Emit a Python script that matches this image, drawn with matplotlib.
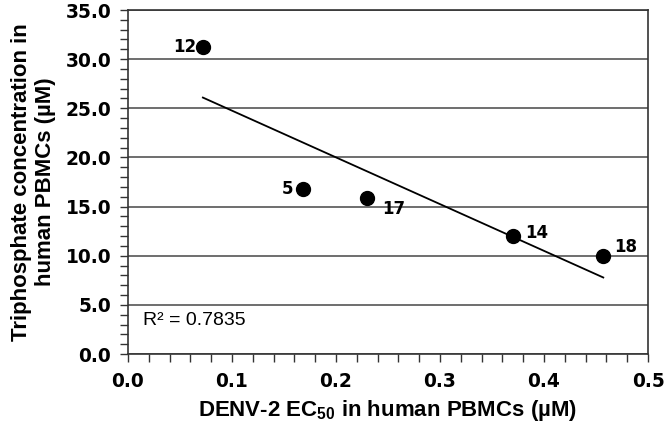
import numpy as np
import matplotlib.pyplot as plt
from matplotlib.ticker import MultipleLocator

plt.rcParams['font.family'] = ['Liberation Sans', 'DejaVu Sans']
plt.rcParams['mathtext.fontset'] = 'custom'
plt.rcParams['mathtext.bf'] = 'Liberation Sans:bold'
plt.rcParams['mathtext.rm'] = 'Liberation Sans'

ec50 = np.array([0.072, 0.168, 0.230, 0.370, 0.457])
tp = np.array([31.2, 16.8, 15.9, 12.0, 10.0])
names = ["12", "5", "17", "14", "18"]
r2_text = "R² = 0.7835"

# label offsets (points) per compound
offs = [(-5, 0, "right"), (-7, 0, "right"), (11, -8, "left"),
        (9, 2, "left"), (7.5, 6, "left")]

fig = plt.figure(figsize=(6.66, 4.42), dpi=100)
ax = fig.add_axes([128/666, 1-354/442, 520/666, 344/442])

ax.set_xlim(0, 0.5)
ax.set_ylim(0, 35)
ax.yaxis.set_major_locator(MultipleLocator(5))
ax.yaxis.set_minor_locator(MultipleLocator(1))
ax.xaxis.set_major_locator(MultipleLocator(0.1))
ax.xaxis.set_minor_locator(MultipleLocator(0.02))
ax.yaxis.set_major_formatter(lambda v, p: f"{v:.1f}")
ax.xaxis.set_major_formatter(lambda v, p: f"{v:.1f}")
ax.grid(axis="y", color="#555555", lw=1.2)
ax.set_axisbelow(True)
for s in ax.spines.values():
    s.set_color("#333333")
    s.set_linewidth(1.2)
ax.tick_params(which="both", direction="out", color="#333333", width=1, length=6)
ax.tick_params(axis="x", which="major", pad=7)
ax.tick_params(axis="y", which="major", pad=6)
for lab in ax.get_xticklabels() + ax.get_yticklabels():
    lab.set_fontfamily("DejaVu Sans")
    lab.set_fontweight("bold")
    lab.set_fontsize(13.4)

ax.scatter(ec50, tp, s=100, color="black", zorder=3)
k, b = np.polyfit(ec50, tp, 1)
xx = np.array([ec50.min(), ec50.max()])
ax.plot(xx, k*xx + b, color="black", lw=1.3, zorder=2)

for x, y, n, (dx, dy, ha) in zip(ec50, tp, names, offs):
    ax.annotate(n, (x, y), xytext=(dx, dy), textcoords="offset points",
                ha=ha, va="center", fontsize=12, fontweight="bold",
                family="DejaVu Sans")

ax.text(0.0145, 3.45, r2_text, fontsize=14, ha="left", va="center")

ax.set_xlabel("DENV-2 EC$_{\\mathbf{50}}$ in human PBMCs (µM)",
              fontsize=16, fontweight="bold", labelpad=5)
ax.set_ylabel("Triphosphate concentration in\nhuman PBMCs (µM)",
              fontsize=16, fontweight="bold", labelpad=7)

fig.savefig("out.png", dpi=100)
